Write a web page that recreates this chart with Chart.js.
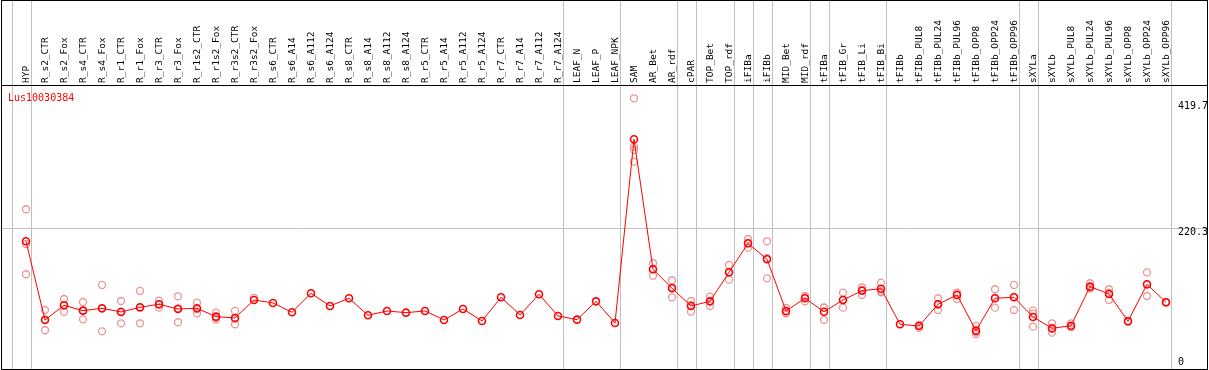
<!DOCTYPE html>
<html>
<head>
<meta charset="utf-8">
<script src="https://cdn.jsdelivr.net/npm/chart.js@4.4.1/dist/chart.umd.min.js"></script>
<style>
  html, body { margin: 0; padding: 0; background: #fff; }
  canvas { display: block; }
</style>
</head>
<body>
<canvas id="exprChart" width="1209" height="370"></canvas>
<script>
const categories = [
  "HYP", "R_s2_CTR", "R_s2_Fox", "R_s4_CTR", "R_s4_Fox", "R_r1_CTR", "R_r1_Fox",
  "R_r3_CTR", "R_r3_Fox", "R_r1s2_CTR", "R_r1s2_Fox", "R_r3s2_CTR", "R_r3s2_Fox",
  "R_s6_CTR", "R_s6_A14", "R_s6_A112", "R_s6_A124", "R_s8_CTR", "R_s8_A14",
  "R_s8_A112", "R_s8_A124", "R_r5_CTR", "R_r5_A14", "R_r5_A112", "R_r5_A124",
  "R_r7_CTR", "R_r7_A14", "R_r7_A112", "R_r7_A124", "LEAF_N", "LEAF_P", "LEAF_NPK",
  "SAM", "AR_Bet", "AR_rdf", "cPAR", "TOP_Bet", "TOP_rdf", "iFIBa", "iFIBb",
  "MID_Bet", "MID_rdf", "tFIBa", "tFIB_Gr", "tFIB_Li", "tFIB_Bi", "tFIBb",
  "tFIBb_PUL8", "tFIBb_PUL24", "tFIBb_PUL96", "tFIBb_OPP8", "tFIBb_OPP24", "tFIBb_OPP96",
  "sXYLa", "sXYLb", "sXYLb_PUL8", "sXYLb_PUL24", "sXYLb_PUL96", "sXYLb_OPP8",
  "sXYLb_OPP24", "sXYLb_OPP96"
];

// mean expression per sample
const meanValues = [
  199.7, 79.0, 101.5, 93.3, 96.9, 91.3, 98.4, 103.1, 95.9, 96.9, 84.1, 82.1, 109.7,
  105.1, 90.8, 119.9, 100.5, 112.3, 86.2, 92.8, 90.2, 92.8, 79.0, 95.9, 77.5,
  113.8, 86.7, 118.4, 85.1, 79.5, 107.6, 74.4,
  356.1, 156.7, 127.6, 100.5, 107.6, 152.1, 196.6, 172.1, 92.8, 112.3, 91.7,
  109.7, 123.9, 127.0, 72.4, 69.8, 103.1, 117.3, 62.6, 112.3, 113.8,
  83.6, 66.3, 70.2, 130.1, 118.9, 77.0, 133.7, 106.1
];

// individual replicates (same order as categories)
const replicateValues = [
  [248.8, 195.6, 149.1], [94.3, 63.2, 79.5], [111.2, 91.7, 101.5], [106.6, 80.0, 93.3],
  [132.7, 61.6, 96.5], [108.1, 73.9, 91.9], [123.5, 73.9, 97.8], [108.6, 97.9, 102.8],
  [115.3, 75.5, 96.9], [105.5, 89.3, 95.9], [90.2, 80.0, 82.1], [92.8, 72.4, 81.1],
  [113.0], [], [], [], [], [], [], [], [], [], [], [], [], [], [], [], [], [], [], [],
  [419.0, 344.8, 339.7, 321.8], [166.0, 146.9, 157.2], [139.9, 113.8, 129.1],
  [108.1, 91.7, 101.7], [114.7, 100.5, 107.6], [163.3, 140.8, 152.2], [203.2, 189.9, 196.7],
  [199.7, 142.9, 173.7], [97.4, 89.3, 91.7], [115.8, 107.6, 113.5], [97.9, 79.0, 98.2],
  [120.9, 97.9, 110.3], [129.1, 117.3, 125.3], [136.2, 121.5, 123.3], [],
  [71.5, 66.8, 71.1], [112.3, 94.3, 102.7], [119.9, 111.2, 120.8], [69.8, 57.5, 60.5],
  [126.1, 97.9, 112.9], [132.7, 94.3, 114.4], [93.3, 68.7, 88.8], [73.9, 59.5, 65.5],
  [73.9, 68.5, 68.2], [135.3, 127.5, 127.5], [126.1, 109.7, 120.9], [77.6, 76.4],
  [152.1, 115.8, 133.2], [106.5, 105.7]
];

const yTickValues = [419.7, 220.3, 0];
const yTickLabels = ["419.7", "220.3", "0"];
// index of the last sample in each group (-1 = before the first one)
const groupEnds = [-1, 0, 28, 31, 34, 35, 37, 38, 39, 41, 42, 45, 52, 53, 60];
const geneName = "Lus10030384";

Chart.defaults.font.family = "'DejaVu Sans Mono', monospace";

const replicatePoints = replicateValues.flatMap((vals, i) =>
  vals.map(v => ({ x: categories[i], y: v }))
);

// frame, separators, gene name and value labels
const framePlugin = {
  id: "frame",
  beforeDraw(chart) {
    const ctx = chart.ctx;
    const xs = chart.scales.x;
    const ys = chart.scales.y;
    const W = chart.width;
    const bottom = chart.chartArea.bottom;
    ctx.save();
    ctx.fillStyle = "#fff";
    ctx.fillRect(0, 0, W, chart.height);

    ctx.strokeStyle = "#c0c0c0";
    ctx.lineWidth = 1;
    groupEnds.forEach(i => {
      const px = Math.round(xs.getPixelForValue(i + 0.25)) + 0.5;
      ctx.beginPath();
      ctx.moveTo(px, 0);
      ctx.lineTo(px, bottom);
      ctx.stroke();
    });
    const gy = Math.round(ys.getPixelForValue(yTickValues[1])) + 0.5;
    ctx.beginPath();
    ctx.moveTo(1, gy);
    ctx.lineTo(W - 2, gy);
    ctx.stroke();

    ctx.strokeStyle = "#000";
    ctx.strokeRect(1.5, 0.5, W - 3, bottom);
    ctx.beginPath();
    ctx.moveTo(1, chart.chartArea.top + 0.5);
    ctx.lineTo(W - 2, chart.chartArea.top + 0.5);
    ctx.stroke();

    ctx.font = "10px 'DejaVu Sans Mono'";
    ctx.textBaseline = "middle";
    ctx.fillStyle = "#ff0000";
    ctx.fillText(geneName, 8, 98);

    ctx.fillStyle = "#000";
    const labelX = xs.getPixelForValue(categories.length - 1) + 12;
    ctx.fillText(yTickLabels[0], labelX, ys.getPixelForValue(yTickValues[0]) + 9);
    ctx.fillText(yTickLabels[1], labelX, ys.getPixelForValue(yTickValues[1]) + 5);
    ctx.fillText(yTickLabels[2], labelX, bottom - 7);
    ctx.restore();
  }
};

new Chart(document.getElementById("exprChart"), {
  type: "line",
  data: {
    labels: categories,
    datasets: [
      {
        label: geneName,
        data: meanValues,
        borderColor: "#ff0000",
        borderWidth: 1,
        pointStyle: "circle",
        pointRadius: 3.5,
        pointBorderWidth: 1.6,
        pointBorderColor: "#ff0000",
        pointBackgroundColor: "rgba(0,0,0,0)",
        tension: 0
      },
      {
        label: "replicates",
        data: replicatePoints,
        showLine: false,
        pointStyle: "circle",
        pointRadius: 3.5,
        pointBorderWidth: 1.3,
        pointBorderColor: "#ee9494",
        pointBackgroundColor: "rgba(0,0,0,0)"
      }
    ]
  },
  options: {
    responsive: false,
    animation: false,
    devicePixelRatio: 1,
    layout: { autoPadding: false, padding: { left: 26, right: 43, top: 0, bottom: 1 } },
    plugins: {
      legend: { display: false },
      tooltip: { enabled: false }
    },
    scales: {
      x: {
        type: "category",
        position: "top",
        offset: false,
        grid: { display: false, drawTicks: false },
        border: { display: false },
        afterFit(scale) { scale.height = 85; },
        ticks: {
          autoSkip: false,
          minRotation: 90,
          maxRotation: 90,
          padding: 2,
          labelOffset: 12,
          color: "#000",
          font: { size: 9.5 }
        }
      },
      y: {
        display: false,
        min: 3.8,
        max: 439.4
      }
    }
  },
  plugins: [framePlugin]
});
</script>
</body>
</html>
